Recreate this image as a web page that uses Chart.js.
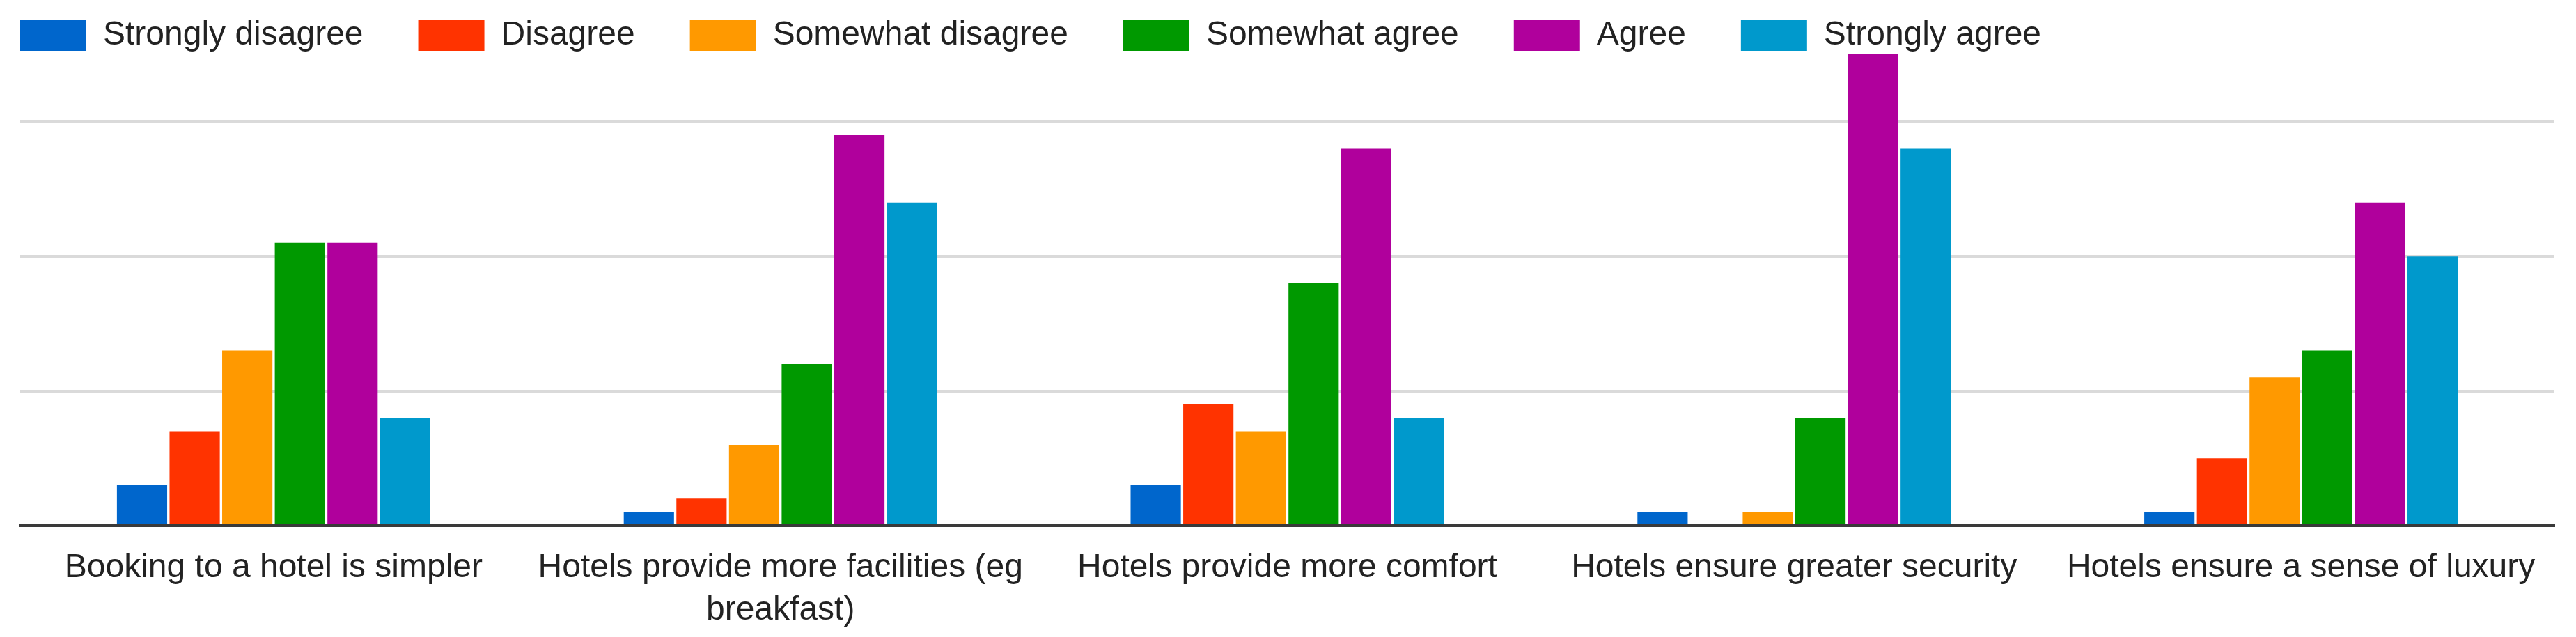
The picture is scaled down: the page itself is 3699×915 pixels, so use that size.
<!DOCTYPE html>
<html>
<head>
<meta charset="utf-8">
<script src="https://cdn.jsdelivr.net/npm/chart.js@4.4.1/dist/chart.umd.min.js"></script>
<style>
  html, body { margin: 0; padding: 0; background: #fff; }
  #wrap { width: 3699px; height: 915px; position: relative; }
</style>
</head>
<body>
<div id="wrap"><canvas id="bar-chart"></canvas></div>
<script>
// categories (x axis)
const categories = [
    'Booking to a hotel is simpler',
    ['Hotels provide more facilities (eg', 'breakfast)'],
    'Hotels provide more comfort',
    'Hotels ensure greater security',
    'Hotels ensure a sense of luxury'
];

// answer options, one series each
const seriesNames = ['Strongly disagree', 'Disagree', 'Somewhat disagree', 'Somewhat agree', 'Agree', 'Strongly agree'];
const seriesColors = ['#0066cc', '#ff3300', '#ff9900', '#009900', '#b0009c', '#0099cc'];

// counts per category
const stronglyDisagree = [3, 1, 3, 1, 1];
const disagree         = [7, 2, 9, 0, 5];
const somewhatDisagree = [13, 6, 7, 1, 11];
const somewhatAgree    = [21, 12, 18, 8, 13];
const agree            = [21, 29, 28, 35, 24];
const stronglyAgree    = [8, 24, 8, 28, 20];

const seriesValues = [stronglyDisagree, disagree, somewhatDisagree, somewhatAgree, agree, stronglyAgree];

const FONT = "'Liberation Sans', Arial, sans-serif";
const LEGEND_GAP = 79;

// legend sits over the top of the plot, starting at the left edge
const legendPlacer = {
    id: 'legendPlacer',
    afterLayout(chart) {
        const lg = chart.legend;
        lg.left = 29 - LEGEND_GAP;
        lg.top = 27 - LEGEND_GAP;
        lg.right = chart.width;
        lg.bottom = 300;
    }
};

const ctx = document.getElementById('bar-chart').getContext('2d');
const chart = new Chart(ctx, {
    type: 'bar',
    data: {
        labels: categories,
        datasets: seriesNames.map((name, i) => ({
            label: name,
            data: seriesValues[i],
            backgroundColor: seriesColors[i],
            borderColor: seriesColors[i],
            borderWidth: 0,
            minBarLength: 2,
            categoryPercentage: 0.623,
            barPercentage: 0.955
        }))
    },
    plugins: [legendPlacer],
    options: {
        responsive: true,
        maintainAspectRatio: false,
        devicePixelRatio: 1,
        animation: false,
        layout: {
            padding: { left: 29, right: 31, top: 19, bottom: 0 }
        },
        plugins: {
            tooltip: { enabled: false },
            legend: {
                position: 'top',
                align: 'start',
                maxHeight: 1,
                labels: {
                    boxWidth: 95,
                    boxHeight: 44,
                    padding: LEGEND_GAP,
                    color: '#222',
                    font: { family: FONT, size: 48 }
                }
            }
        },
        scales: {
            x: {
                afterFit(scale) { scale.height = 160; },
                grid: { display: false, drawTicks: false },
                border: { display: true, color: '#3a3a3a', width: 4 },
                ticks: {
                    autoSkip: false,
                    maxRotation: 0,
                    minRotation: 0,
                    padding: 31,
                    color: '#222',
                    font: { family: FONT, size: 48, lineHeight: 1.26 }
                }
            },
            y: {
                min: 0,
                max: 38,
                ticks: { display: false, stepSize: 10 },
                border: { display: false },
                grid: {
                    drawTicks: false,
                    lineWidth: 4,
                    color: (c) => (c.tick && c.tick.value > 0 && c.tick.value % 10 === 0) ? '#dadada' : 'rgba(0,0,0,0)'
                }
            }
        }
    }
});
</script>
</body>
</html>
